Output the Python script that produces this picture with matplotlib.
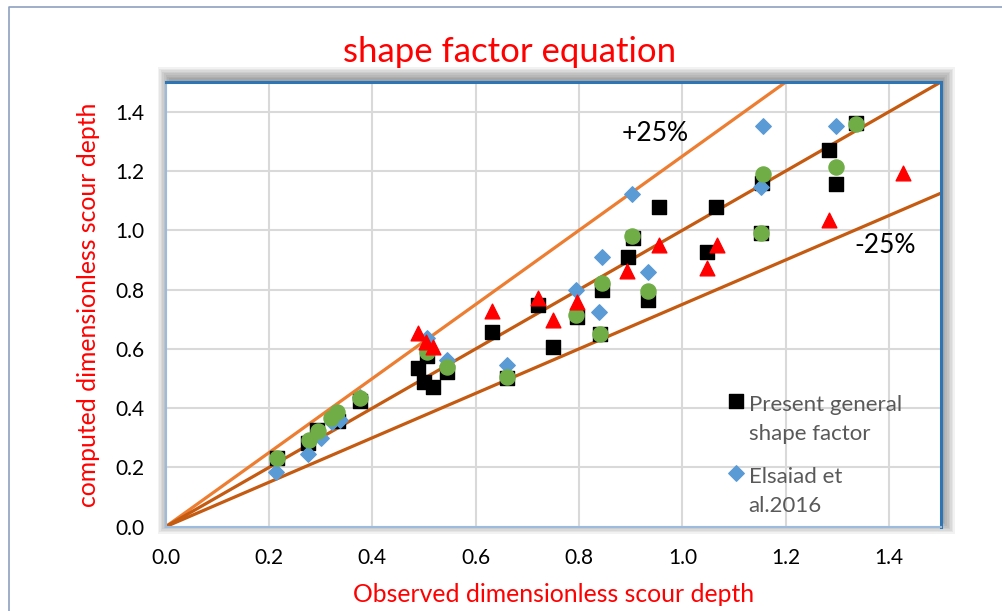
import numpy as np
import matplotlib.pyplot as plt
from matplotlib.patches import Rectangle
from matplotlib.lines import Line2D

plt.rcParams['font.family'] = ['Lato', 'DejaVu Sans']

# observed vs computed dimensionless scour depth
present_obs = [0.215, 0.275, 0.293, 0.333, 0.376, 0.488, 0.500, 0.517, 0.544, 0.506,
               0.632, 0.660, 0.720, 0.750, 0.796, 0.840, 0.844, 0.895, 0.904, 0.933,
               0.955, 1.048, 1.065, 1.154, 1.152, 1.284, 1.297, 1.336]
present_comp = [0.232, 0.282, 0.326, 0.357, 0.424, 0.535, 0.488, 0.471, 0.522, 0.576,
                0.657, 0.502, 0.748, 0.606, 0.708, 0.650, 0.799, 0.910, 0.974, 0.765,
                1.079, 0.927, 1.079, 1.159, 0.991, 1.271, 1.156, 1.362]

elsaiad_obs = [0.213, 0.275, 0.301, 0.322, 0.337, 0.376, 0.506, 0.544, 0.660, 0.794,
               0.838, 0.844, 0.902, 0.933, 1.152, 1.156, 1.297]
elsaiad_comp = [0.185, 0.245, 0.300, 0.353, 0.360, 0.438, 0.637, 0.562, 0.546, 0.799,
                0.724, 0.910, 1.122, 0.859, 1.146, 1.352, 1.352]

green_obs = [0.215, 0.277, 0.295, 0.320, 0.331, 0.376, 0.506, 0.544, 0.660, 0.794,
             0.840, 0.844, 0.902, 0.933, 1.152, 1.156, 1.297, 1.336]
green_comp = [0.232, 0.293, 0.323, 0.367, 0.387, 0.434, 0.590, 0.539, 0.506, 0.714,
              0.650, 0.822, 0.980, 0.795, 0.991, 1.191, 1.214, 1.359]

red_obs = [0.488, 0.504, 0.517, 0.632, 0.720, 0.750, 0.796, 0.893, 0.955, 1.048,
           1.067, 1.284, 1.427]
red_comp = [0.653, 0.623, 0.606, 0.728, 0.773, 0.697, 0.758, 0.863, 0.950, 0.873,
            0.950, 1.035, 1.193]

# +25%, perfect agreement, -25%
line_x = np.array([0.0, 1.5])
factors = [1.25, 1.0, 0.75]
line_colors = ['#ed7d31', '#c55a11', '#c55a11']

ticks = [0.0, 0.2, 0.4, 0.6, 0.8, 1.0, 1.2, 1.4]

W, H = 1002, 611
fig = plt.figure(figsize=(W / 100, H / 100), dpi=100)

# outer chart border
fig.add_artist(Line2D([9.3 / W, 9.3 / W, 1.0], [0.0, 1 - 7.3 / H, 1 - 7.3 / H],
                      color='#8da0c0', lw=1.2))

# plot area (pixels)
L, T, R, B = 165.7, 82.1, 940.7, 526.7
ax = fig.add_axes([L / W, 1 - B / H, (R - L) / W, (B - T) / H])

# soft shadow around the plot area
for k in range(8):
    e = 1.6 * k
    fig.add_artist(Rectangle(((L + 3 - e) / W, 1 - (B - 4 + e) / H),
                             (R - L + 2 * e) / W, (B - T + 2 * e) / H,
                             facecolor='k', edgecolor='none', alpha=0.05, zorder=0))

for f, c in zip(factors, line_colors):
    ax.plot(line_x, f * line_x, color=c, lw=2.3, zorder=2)

h1 = ax.scatter(present_obs, present_comp, marker='s', s=112, color='black',
                zorder=3, label='Present general\nshape factor')
h2 = ax.scatter(elsaiad_obs, elsaiad_comp, marker='D', s=62, color='#5b9bd5',
                zorder=4, label='Elsaiad et\nal.2016')
ax.scatter(green_obs, green_comp, marker='o', s=118, color='#70ad47', zorder=5)
ax.scatter(red_obs, red_comp, marker='^', s=112, color='#ff0000', zorder=6)

ax.text(0.947, 1.328, '+25%', ha='center', va='center', fontsize=19)
ax.text(1.392, 0.950, '-25%', ha='center', va='center', fontsize=19)

ax.set_xlim(0, 1.5)
ax.set_ylim(0, 1.5)
ax.set_xticks(ticks)
ax.set_yticks(ticks)
ax.set_xticklabels([f'{t:.1f}' for t in ticks])
ax.set_yticklabels([f'{t:.1f}' for t in ticks])
ax.tick_params(length=0, labelsize=15, colors='black')
ax.tick_params(axis='x', pad=15)
ax.tick_params(axis='y', pad=15)
ax.grid(color='#d9d9d9', lw=1.5)
ax.set_axisbelow(True)

for side in ['top', 'right']:
    ax.spines[side].set_color('#2e75b6')
    ax.spines[side].set_linewidth(2.2)
for side in ['left', 'bottom']:
    ax.spines[side].set_color('#9dbbdc')
    ax.spines[side].set_linewidth(1.5)

ax.set_xlabel('Observed dimensionless scour depth', color='red', fontsize=17.8)
ax.set_ylabel('computed dimensionless scour depth', color='red', fontsize=17.8)
ax.xaxis.set_label_coords(0.5, -0.126)
ax.yaxis.set_label_coords(-0.085, 0.5)

fig.text(0.509, 1 - 52 / H, 'shape factor equation', color='red', fontsize=25,
         ha='center', va='center')

leg = ax.legend(handles=[h1, h2], loc='upper left', bbox_to_anchor=(0.725, 0.296),
                frameon=False, fontsize=16, labelcolor='#595959', handletextpad=0.15,
                handlelength=0.8, labelspacing=1.05, scatteryoffsets=[1.7],
                borderpad=0, borderaxespad=0)
for t in leg.get_texts():
    t.set_linespacing(1.55)

fig.savefig('out.png', dpi=100)
